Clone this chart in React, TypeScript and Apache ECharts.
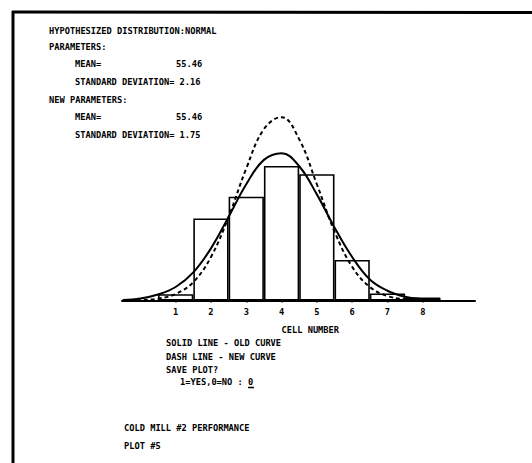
import React, { useEffect, useRef } from "react";
import * as echarts from "echarts";

// Cell numbers along the x axis and observed frequencies (bar heights)
const cellNumbers = [1, 2, 3, 4, 5, 6, 7, 8];
const cellCounts = [1.7, 21.9, 27.7, 35.9, 33.7, 10.8, 1.9, 0.8];

// Curve readings (x in cell units)
const curveX = [-0.5, 0, 0.5, 1, 1.5, 2, 2.5, 3, 3.5, 4, 4.5, 5, 5.5, 6, 6.5, 7, 7.5, 8, 8.5];
const oldCurve = [0.16, 0.55, 1.6, 3.6, 7.5, 13.9, 22.3, 31.0, 37.5, 39.3, 35.8, 28.3, 19.5, 11.6, 5.6, 2.6, 1.0, 0.36, 0.1];
const newCurve = [0.02, 0.12, 0.5, 1.74, 4.9, 11.6, 22.3, 35.2, 45.7, 48.9, 43.0, 31.0, 18.4, 9.0, 3.6, 1.2, 0.32, 0.07, 0.01];

const tickLabels = ["1", "2", "3", "4", "5", "6", "7", "8"];

const headerLines = [
  "HYPOTHESIZED DISTRIBUTION:NORMAL",
  "PARAMETERS:",
  "MEAN=",
  "STANDARD DEVIATION= 2.16",
  "NEW PARAMETERS:",
  "MEAN=",
  "STANDARD DEVIATION= 1.75",
];
const meanValues = ["55.46", "55.46"];
const footerLines = [
  "SOLID LINE - OLD CURVE",
  "DASH LINE - NEW CURVE",
  "SAVE PLOT?",
  "1=YES,0=NO : 0",
];
const axisTitle = "CELL NUMBER";
const titleLines = ["COLD MILL #2 PERFORMANCE", "PLOT #5"];

const FONT = 'bold 8.7px "DejaVu Sans Mono"';

function txt(text: string, x: number, y: number) {
  return {
    type: "text",
    x,
    y,
    style: { text, font: FONT, fill: "#000", verticalAlign: "middle", align: "left" },
  };
}

export default function App() {
  const ref = useRef<HTMLDivElement>(null);
  useEffect(() => {
    if (!ref.current) return;
    const chart = echarts.init(ref.current, null, { renderer: "svg" });
    const headerY = [30.5, 47, 64, 82, 99.5, 117, 134.5];
    const headerX = [49, 49, 75, 75, 49, 75, 75];
    const footerY = [343, 356.5, 369.5, 381.7];
    const footerX = [166, 166, 166, 180];
    const graphics: any[] = [];
    headerLines.forEach((t, i) => graphics.push(txt(t, headerX[i], headerY[i])));
    graphics.push(txt(meanValues[0], 176, headerY[2]));
    graphics.push(txt(meanValues[1], 176, headerY[5]));
    graphics.push(txt(axisTitle, 281.5, 330));
    footerLines.forEach((t, i) => graphics.push(txt(t, footerX[i], footerY[i])));
    graphics.push({
      type: "line",
      shape: { x1: 248, y1: 387.5, x2: 254, y2: 387.5 },
      style: { stroke: "#000", lineWidth: 1.5 },
    });
    graphics.push(txt(titleLines[0], 124, 428));
    graphics.push(txt(titleLines[1], 124, 446));
    // frame
    graphics.push({
      type: "line",
      shape: { x1: 13, y1: 11, x2: 13, y2: 463 },
      style: { stroke: "#000", lineWidth: 3 },
    });
    graphics.push({
      type: "line",
      shape: { x1: 12, y1: 12, x2: 532, y2: 12.5 },
      style: { stroke: "#000", lineWidth: 3 },
    });

    chart.setOption({
      animation: false,
      backgroundColor: "#fff",
      grid: { left: 122, right: 57, top: 105.5, bottom: 162.5 },
      xAxis: {
        type: "value",
        min: -0.52,
        max: 9.48,
        splitLine: { show: false },
        axisLine: { show: true, lineStyle: { color: "#000", width: 2 } },
        axisTick: {
          show: true,
          customValues: cellNumbers,
          length: 2,
          lineStyle: { color: "#000", width: 1.5 },
        },
        axisLabel: {
          show: true,
          customValues: cellNumbers,
          formatter: (v: number) => tickLabels[Math.round(v) - 1] ?? "",
          color: "#000",
          fontFamily: "DejaVu Sans Mono",
          fontWeight: "bold",
          fontSize: 8.7,
          margin: 7,
        },
      },
      yAxis: { type: "value", min: 0, max: 52, show: false },
      series: [
        {
          type: "bar",
          data: cellNumbers.map((c, i) => [c, cellCounts[i]]),
          barWidth: 35.3,
          itemStyle: { color: "#fff", borderColor: "#000", borderWidth: 1.6 },
          z: 1,
        },
        {
          type: "line",
          data: curveX.map((x, i) => [x, oldCurve[i]]),
          smooth: 0.4,
          symbol: "none",
          lineStyle: { color: "#000", width: 2 },
          z: 3,
        },
        {
          type: "line",
          data: curveX.map((x, i) => [x, newCurve[i]]),
          smooth: 0.4,
          symbol: "none",
          lineStyle: { color: "#000", width: 2, type: [4, 3] },
          z: 3,
        },
      ],
      graphic: graphics,
    });
    return () => chart.dispose();
  }, []);
  return (
    <div
      ref={ref}
      style={{ position: "fixed", left: 0, top: 0, width: 532, height: 463, background: "#fff" }}
    />
  );
}
